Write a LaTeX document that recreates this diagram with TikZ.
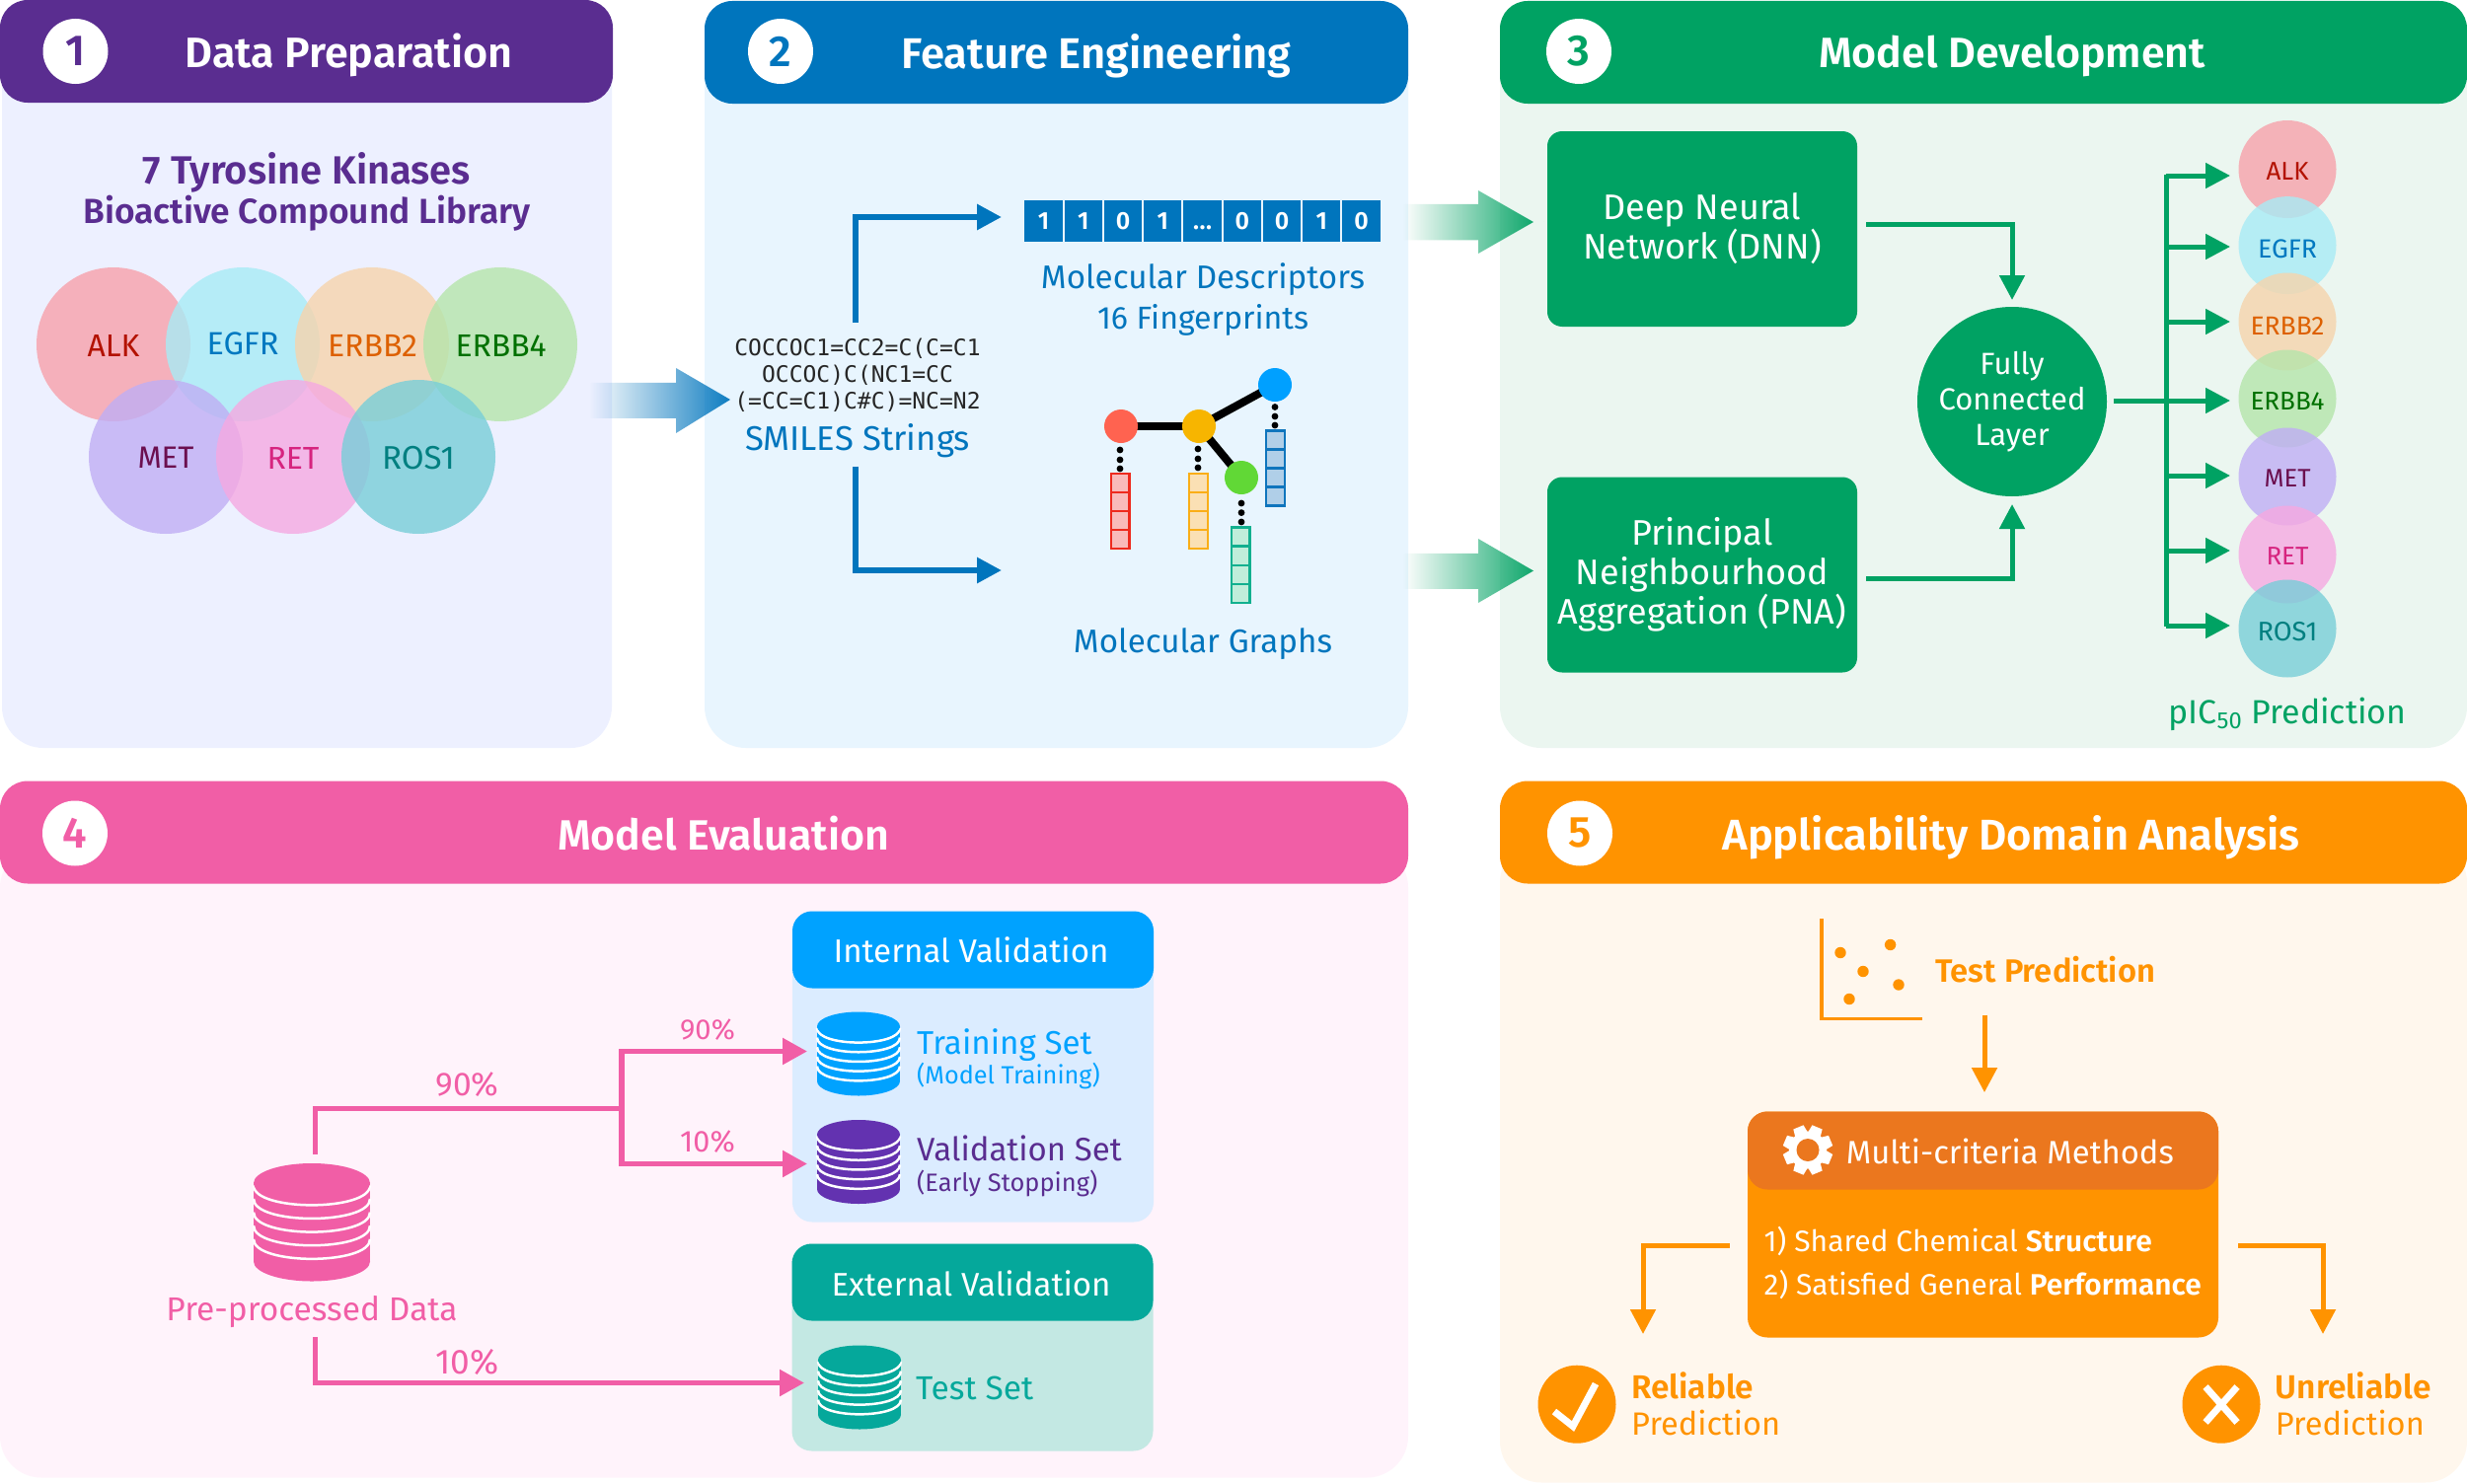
\documentclass[tikz,border=0pt]{standalone}
\usepackage{fontspec}
\setmainfont{Fira Sans}[BoldFont={Fira Sans SemiBold}]
\newfontfamily\monof{DejaVu Sans Mono}
\usetikzlibrary{arrows.meta,fadings}
\definecolor{cPur}{HTML}{5A2D90}
\definecolor{cBlu}{HTML}{0075BD}
\definecolor{cGrn}{HTML}{00A263}
\definecolor{cPnk}{HTML}{F15EA6}
\definecolor{cOrg}{HTML}{FF9300}
\definecolor{cOrgD}{HTML}{EB771E}
\definecolor{cSky}{HTML}{00A2FF}
\definecolor{cTeal}{HTML}{05A89B}
\definecolor{cVio}{HTML}{6332B0}
\definecolor{bgA}{HTML}{EDF0FF}
\definecolor{bgB}{HTML}{E8F5FE}
\definecolor{bgC}{HTML}{EBF6F0}
\definecolor{bgD}{HTML}{FFF3FB}
\definecolor{bgE}{HTML}{FFF7ED}
\definecolor{bgI}{HTML}{DBECFF}
\definecolor{bgX}{HTML}{C3E8E3}
\definecolor{kALK}{HTML}{F7A1AB}
\definecolor{kEGFR}{HTML}{A8EBF5}
\definecolor{kERBBb}{HTML}{F6D4AC}
\definecolor{kERBBd}{HTML}{B5E5AB}
\definecolor{kMET}{HTML}{C0AEF4}
\definecolor{kRET}{HTML}{F5A9E1}
\definecolor{kROS}{HTML}{78CED8}
\definecolor{tALK}{HTML}{B31200}
\definecolor{tEGFR}{HTML}{0078C0}
\definecolor{tERBBb}{HTML}{DD6000}
\definecolor{tERBBd}{HTML}{007000}
\definecolor{tMET}{HTML}{6B0F4F}
\definecolor{tRET}{HTML}{D6247F}
\definecolor{tROS}{HTML}{007F80}
\definecolor{gRed}{HTML}{FF6350}
\definecolor{gYel}{HTML}{F7B500}
\definecolor{gBlu}{HTML}{00A0FF}
\definecolor{gGrn}{HTML}{61D836}
\newcommand\bitdots{\vphantom{0}.\kern0.5pt.\kern0.5pt.}
% \tx[anchor]{name}{x}{y}{target width}{colour}{text}: text scaled to the width, box = cap height
\newcommand\tx[7][center]{%
  \node[inner sep=0pt,anchor=#1,text=#6] (#2) at (#3,#4) {\resizebox{#5pt}{!}{\fontsize{20}{20}\selectfont\raisebox{0pt}[13.8pt][0pt]{#7}}};%
}
% \dbcyl{name}{x}{ytop}{ybot}{rx}{ry}{colour}
\newcommand\dbcyl[7]{%
  \node[inner sep=0pt] (#1) at (#2,{(#3+#4)/2}) {};%
  \fill[#7] ({#2-#5},{#3+#6}) rectangle ({#2+#5},{#4-#6});%
  \fill[#7] (#2,{#4-#6}) ellipse [x radius=#5,y radius=#6];%
  \foreach \k in {0,...,4}{%
    \pgfmathsetmacro\yk{#3+#6+0.02*(#4-#3)+\k*0.114*(#4-#3)}%
    \draw[white,line width=2.5pt] ({#2-#5},\yk) .. controls ({#2-#5},{\yk+1.33*#6}) and ({#2+#5},{\yk+1.33*#6}) .. ({#2+#5},\yk);%
  }%
  \fill[#7] (#2,{#3+#6}) ellipse [x radius=#5,y radius=#6];%
}
\tikzfading[name=fadeE,left color=transparent!100,middle color=transparent!72,right color=transparent!0]
\tikzset{
  panel/.style={inner sep=0pt,rounded corners=42pt,minimum width=#1},
  hdr/.style={inner sep=0pt,rounded corners=28pt,minimum height=104pt,minimum width=#1},
  numc/.style={circle,fill=white,inner sep=0pt,minimum size=66pt,font=\bfseries\fontsize{44}{44}\selectfont},
  kin/.style={circle,inner sep=0pt,minimum size=156pt,fill=#1,fill opacity=.8,text opacity=1},
  kinb/.style={circle,inner sep=0pt,minimum size=99pt,fill=#1,fill opacity=.8,text opacity=1},
  garr/.style={draw=cGrn,line width=5pt,-{Triangle[length=25pt,width=25pt]}},
  gline/.style={draw=cGrn,line width=5pt},
  barr/.style={draw=cBlu,line width=6pt,-{Triangle[length=25pt,width=25pt]}},
  parr/.style={draw=cPnk,line width=5.5pt,-{Triangle[length=25pt,width=26pt]}},
  pline/.style={draw=cPnk,line width=5.5pt},
  oarr/.style={draw=cOrg,line width=5pt,-{Triangle[length=25pt,width=25pt]}},
  gbox/.style={fill=cGrn,rounded corners=15pt,inner sep=0pt,minimum width=314pt,minimum height=198pt,text=white,align=center,font=\fontsize{36}{40}\selectfont},
  bitc/.style={fill=cBlu,inner sep=0pt,minimum width=38.4pt,minimum height=42pt,text=white,font=\bfseries\fontsize{25}{25}\selectfont},
  subh/.style={inner sep=0pt,rounded corners=20pt,minimum width=366pt},
  edge/.style={line width=8pt,black},
}
\begin{document}
\begin{tikzpicture}[x=1pt,y=-1pt]
\useasboundingbox (0,0) rectangle (2500,1504);
\fill[white] (0,0) rectangle (2500,1504);
% ---------- panels
\node[panel=618pt,minimum height=720pt,fill=bgA] (p1) at (311,398) {};
\node[panel=713pt,minimum height=720pt,fill=bgB] (p2) at (1070.5,398) {};
\node[panel=980pt,minimum height=720pt,fill=bgC] (p3) at (2010,398) {};
\node[hdr=621pt,fill=cPur] (h1) at (310.5,52) {};
\node[hdr=713pt,fill=cBlu] (h2) at (1070.5,53) {};
\node[hdr=980pt,fill=cGrn] (h3) at (2010,53) {};
\node[numc,text=cPur] (n1) at (76.5,52) {1};
\node[numc,text=cBlu] (n2) at (791,52) {2};
\node[numc,text=cGrn] (n3) at (1600,52) {3};
\tx{t1}{353.5}{54}{332}{white}{\bfseries Data Preparation}
\tx{t2}{1111}{54}{395}{white}{\bfseries Feature Engineering}
\tx{t3}{2039}{54}{392}{white}{\bfseries Model Development}
% ---------- panel 1
\tx{lib1}{311}{173}{332}{cPur}{\bfseries 7 Tyrosine Kinases}
\tx{lib2}{311}{214}{453}{cPur}{\bfseries Bioactive Compound Library}
\node[kin=kALK] (a1) at (115,349) {};
\node[kin=kEGFR] (a2) at (246,349) {};
\node[kin=kERBBb] (a3) at (377,349) {};
\node[kin=kERBBd] (a4) at (507,349) {};
\node[kin=kMET] (a5) at (168,463) {};
\node[kin=kRET] (a6) at (297,463) {};
\node[kin=kROS] (a7) at (424,463) {};
\tx{la1}{115}{350}{53}{tALK}{ALK}
\tx{la2}{246}{348}{73}{tEGFR}{EGFR}
\tx{la3}{377.5}{350}{91}{tERBBb}{ERBB2}
\tx{la4}{507.5}{350}{92}{tERBBd}{ERBB4}
\tx{la5}{168}{464}{57}{tMET}{MET}
\tx{la6}{297}{464}{53}{tRET}{RET}
\tx{la7}{424}{464}{74}{tROS}{ROS1}
% ---------- big gradient arrows (the empty end point sets the extent of the fading)
\fill[cBlu,path fading=fadeE] (750,405) -- +(0,0) (597,388) -- (685,388) -- (685,373) -- (740,405) -- (685,439) -- (685,424) -- (597,424) -- cycle;
\fill[cGrn,path fading=fadeE] (1564,225) -- +(0,0) (1422,207) -- (1498,207) -- (1498,193) -- (1554,225) -- (1498,257) -- (1498,243.5) -- (1422,243.5) -- cycle;
\fill[cGrn,path fading=fadeE] (1564,578) -- +(0,0) (1422,561) -- (1498,561) -- (1498,546) -- (1554,578.5) -- (1498,611) -- (1498,597) -- (1422,597) -- cycle;
% ---------- panel 2
\node[inner sep=0pt,align=center,text=black!85,font=\monof\fontsize{23}{27}\selectfont] (smi) at (869,380) {COCCOC1=CC2=C(C=C1\\OCCOC)C(NC1=CC\\(=CC=C1)C\#C)=NC=N2};
\tx{smil}{869}{445}{228}{cBlu}{SMILES Strings}
\coordinate (su) at (867,327);
\coordinate (sd) at (867,472.5);
\coordinate (mu) at (1015,220);
\coordinate (md) at (1015,578);
\draw[barr] (su) |- (mu);
\draw[barr] (sd) |- (md);
\foreach \i/\b in {0/1,1/1,2/0,3/1,4/\bitdots,5/0,6/0,7/1,8/0}{
  \pgfmathsetmacro\cx{1057.5+\i*40.25}
  \node[bitc] (bit\i) at (\cx,224) {\b};
}
\tx{d1}{1219}{281}{328}{cBlu}{Molecular Descriptors}
\tx{d2}{1219}{322}{214}{cBlu}{16 Fingerprints}
\tx{d3}{1219}{650}{262}{cBlu}{Molecular Graphs}
\foreach \n/\xa/\ya/\xb/\yb/\sc/\fc in {0/1126/480/1144.5/556/EE2A1E/F9BABA,1/1205/480/1224/556/FAAE17/FAE0B4,2/1283/436.5/1302/512.5/0F75BD/B0CFE8,3/1248/534.6/1266.5/611/12B08F/C0EEDA}{
  \definecolor{vs}{HTML}{\sc}\definecolor{vf}{HTML}{\fc}
  \fill[vf] (\xa,\ya) rectangle (\xb,\yb);
  \foreach \m in {0,1,2,3}{
    \pgfmathsetmacro\ytop{\ya+\m*(\yb-\ya)/4}
    \pgfmathsetmacro\ybot{\ya+(\m+1)*(\yb-\ya)/4}
    \draw[vs,line width=2.5pt] (\xa,\ytop) rectangle (\xb,\ybot);
  }
}
\foreach \px/\py in {1135/456,1135/466,1135/475,1214/455,1214/465,1214/474,1292/412.5,1292/422,1292/431,1258/510,1258/519.6,1258/529}{
  \fill[black] (\px,\py) circle[radius=3.4];
}
\node[circle,minimum size=34pt,inner sep=0pt] (gr) at (1136,432) {};
\node[circle,minimum size=34pt,inner sep=0pt] (gy) at (1215,432) {};
\node[circle,minimum size=34pt,inner sep=0pt] (gb) at (1292,390) {};
\node[circle,minimum size=34pt,inner sep=0pt] (gg) at (1258,484) {};
\draw[edge] (gr.center) -- (gy.center);
\draw[edge] (gy.center) -- (gb.center);
\draw[edge] (gy.center) -- (gg.center);
\fill[gRed] (gr.center) circle[radius=17];
\fill[gYel] (gy.center) circle[radius=17];
\fill[gBlu] (gb.center) circle[radius=17];
\fill[gGrn] (gg.center) circle[radius=17];
% ---------- panel 3
\node[gbox] (dnn) at (1725,232) {\raisebox{-3pt}{\parbox{300pt}{\centering Deep Neural\\Network (DNN)}}};
\node[gbox] (pna) at (1725,582.5) {\raisebox{-3pt}{\parbox{300pt}{\centering Principal\\Neighbourhood\\Aggregation (PNA)}}};
\node[circle,fill=cGrn,inner sep=0pt,minimum size=192pt,text=white,align=center,font=\fontsize{31}{36}\selectfont] (fc) at (2039,407) {Fully\\Connected\\Layer};
\coordinate (dnnout) at (1891,227.5);
\coordinate (pnaout) at (1891,586);
\coordinate (fcin1) at (2039,304);
\coordinate (fcin2) at (2039,511);
\coordinate (fcout) at (2142,406);
\coordinate (bus) at (2195,406);
\draw[garr] (dnnout) -| (fcin1);
\draw[garr] (pnaout) -| (fcin2);
\draw[gline] (2195,176.6) -- (2195,634.5);
\node[kinb=kALK] (b1) at (2318,171.5) {};
\node[kinb=kEGFR] (b2) at (2318,248.6) {};
\node[kinb=kERBBb] (b3) at (2318,326) {};
\node[kinb=kERBBd] (b4) at (2318,404) {};
\node[kinb=kMET] (b5) at (2318,483) {};
\node[kinb=kRET] (b6) at (2318,562) {};
\node[kinb=kROS] (b7) at (2318,637) {};
\tx{lb1}{2318}{174}{43}{tALK}{ALK}
\tx{lb2}{2318}{252}{60}{tEGFR}{EGFR}
\tx{lb3}{2318}{330}{75}{tERBBb}{ERBB2}
\tx{lb4}{2318}{407}{75}{tERBBd}{ERBB4}
\tx{lb5}{2318}{485}{47}{tMET}{MET}
\tx{lb6}{2318}{564}{43}{tRET}{RET}
\tx{lb7}{2318}{640}{61}{tROS}{ROS1}
\coordinate (t1) at (2260,178);
\coordinate (t2) at (2260,250);
\coordinate (t3) at (2260,326);
\coordinate (t4) at (2260,406);
\coordinate (t5) at (2260,482);
\coordinate (t6) at (2260,558);
\coordinate (t7) at (2260,634);
\draw[garr] (fcout) -- (t4);
\foreach \q in {1,2,3,5,6,7}{
  \draw[garr] (bus |- t\q) -- (t\q);
}
\tx{pic}{2318}{722}{241}{cGrn}{pIC\textsubscript{50} Prediction}
\begin{scope}[yshift=1.5pt]
\node[panel=1427pt,minimum height=640pt,fill=bgD] (p4) at (713.5,1179) {};
\node[panel=980pt,minimum height=650pt,fill=bgE] (p5) at (2010,1179) {};
\node[hdr=1427pt,fill=cPnk] (h4) at (713.5,845) {};
\node[hdr=980pt,fill=cOrg] (h5) at (2010,845) {};
\node[numc,text=cPnk] (n4) at (76,846) {4};
\node[numc,text=cOrg] (n5) at (1601,846) {5};
\tx{t4}{733}{848}{336}{white}{\bfseries Model Evaluation}
\tx{t5}{2038}{848}{585}{white}{\bfseries Applicability Domain Analysis}
% ---------- panel 4
\node[subh,minimum height=315pt,fill=bgI] (ib) at (986,1082.5) {};
\node[subh,minimum height=78pt,fill=cSky] (ih) at (986,964) {};
\node[subh,minimum height=210pt,fill=bgX] (eb) at (985.5,1367) {};
\node[subh,minimum height=78pt,fill=cTeal] (eh) at (985.5,1301) {};
\tx{it}{984}{966}{279}{white}{Internal Validation}
\tx{et}{984}{1304}{283}{white}{External Validation}
\dbcyl{cpre}{316}{1180.5}{1300}{59}{20}{cPnk}
\dbcyl{ctr}{870}{1027}{1112}{42}{14.7}{cSky}
\dbcyl{cva}{870}{1136.5}{1221.5}{42}{14.7}{cVio}
\dbcyl{cte}{871}{1365}{1450}{42}{14.7}{cTeal}
\tx{pp}{316}{1328}{295}{cPnk}{Pre-processed Data}
\tx[west]{tra}{929}{1058.5}{177.5}{cSky}{Training Set}
\tx[west]{trb}{929}{1091.5}{185.5}{cSky}{(Model Training)}
\tx[west]{vaa}{929}{1166.5}{207.6}{cPur}{Validation Set}
\tx[west]{vab}{929}{1200}{183}{cPur}{(Early Stopping)}
\tx[west]{tes}{928}{1408.6}{119}{cTeal}{Test Set}
\coordinate (preup) at (319.5,1171);
\coordinate (predn) at (319.5,1356.6);
\coordinate (split) at (630,1125);
\coordinate (totr) at (818,1067);
\coordinate (tova) at (818,1181);
\coordinate (tote) at (815,1403);
\draw[pline] (preup) |- (split);
\draw[parr] (split) |- (totr);
\draw[parr] (split) |- (tova);
\draw[parr] (predn) |- (tote);
\tx{pa}{473.5}{1100.5}{64}{cPnk}{90\%}
\tx{pb}{717}{1045}{55.6}{cPnk}{90\%}
\tx{pc}{717}{1158.7}{55.6}{cPnk}{10\%}
\tx{pd}{473.5}{1382}{64}{cPnk}{10\%}
% ---------- panel 5
\draw[cOrg,line width=3.5pt] (1846,932.5) -- (1846,1034) -- (1948,1034);
\foreach \px/\py in {1865/967,1915.6/959,1888/986,1924/999.5,1874/1014}{
  \fill[cOrg] (\px,\py) circle[radius=5.7];
}
\tx[west]{tp}{1961}{986}{223}{cOrg}{\bfseries Test Prediction}
\coordinate (tpout) at (2011,1030);
\coordinate (mcin) at (2011,1108.6);
\draw[oarr] (tpout) -- (mcin);
\node[inner sep=0pt,rounded corners=20pt,minimum width=477pt,minimum height=229pt,fill=cOrg] (mc) at (2009.5,1242.5) {};
\node[inner sep=0pt,rounded corners=20pt,minimum width=477pt,minimum height=79pt,fill=cOrgD] (mch) at (2009.5,1167.5) {};
\begin{scope}[shift={(1832,1167)}]
  \fill[white] (0,0) circle[radius=19];
  \foreach \ang in {0,45,...,315}{
    \fill[white,rotate=\ang+22.5] (-5.5,-25) -- (5.5,-25) -- (7,-15) -- (-7,-15) -- cycle;
  }
  \fill[cOrgD] (0,0) circle[radius=11.5];
\end{scope}
\tx[west]{mct}{1870.6}{1170}{332}{white}{Multi-criteria Methods}
\tx[west]{mc1}{1787.5}{1259.5}{393}{white}{1) Shared Chemical \textbf{Structure}}
\tx[west]{mc2}{1787.5}{1304}{443}{white}{2) Satisfied General \textbf{Performance}}
\coordinate (mcl) at (1752.5,1264.3);
\coordinate (mcr) at (2268,1264.3);
\coordinate (rel) at (1665,1353.5);
\coordinate (unr) at (2354,1353.5);
\draw[oarr] (mcl) -| (rel);
\draw[oarr] (mcr) -| (unr);
\node[circle,fill=cOrg,inner sep=0pt,minimum size=79pt] (okc) at (1598,1424.7) {};
\node[circle,fill=cOrg,inner sep=0pt,minimum size=79pt] (noc) at (2251,1424.7) {};
\draw[white,line width=7pt] (1575,1432) -- (1594,1447) -- (1617,1404);
\draw[white,line width=7pt] (2235,1407) -- (2267,1443) (2267,1407) -- (2235,1443);
\tx[west]{r1}{1653}{1407}{124}{cOrg}{\bfseries Reliable}
\tx[west]{r2}{1653}{1444.6}{151}{cOrg}{Prediction}
\tx[west]{u1}{2305.6}{1407}{158}{cOrg}{\bfseries Unreliable}
\tx[west]{u2}{2305.6}{1444.6}{151}{cOrg}{Prediction}
\end{scope}
\end{tikzpicture}
\end{document}
